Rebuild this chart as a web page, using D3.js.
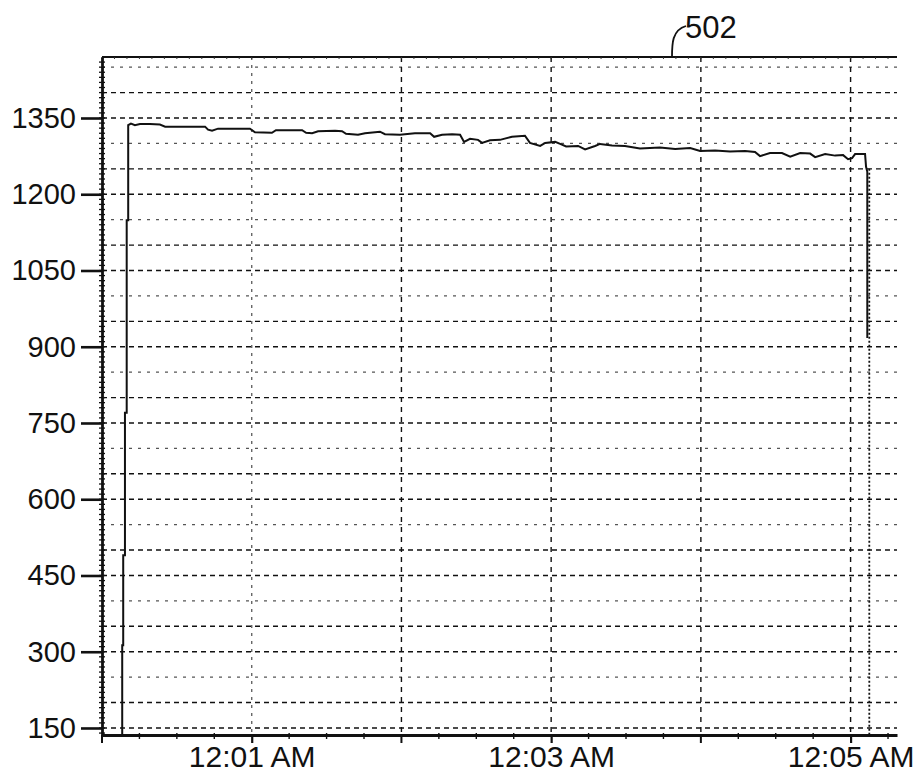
<!DOCTYPE html>
<html>
<head>
<meta charset="utf-8">
<script src="https://cdn.jsdelivr.net/npm/d3@7"></script>
<style>
  html, body { margin: 0; padding: 0; background: #fff; }
  svg { display: block; }
  text { font-family: "Liberation Sans", Arial, sans-serif; fill: #111; }
</style>
</head>
<body>
<svg id="chart" width="914" height="773"></svg>
<script>
// ---- data (seconds after 12:00:00 AM, value) ----
const timesSec = [8.1, 8.1, 8.5, 8.5, 9.2, 9.2, 9.9, 9.9, 10.5, 10.5,
  11.6, 13.2, 15.2, 19.2, 23.2, 25.3, 41.3, 42.5, 44.1, 46.5, 59.3, 61.3, 68.1, 69.7,
  80.2, 81.8, 84.2, 86.6, 93.4, 96.2, 97.8, 102.6, 105.4, 111.4, 113.4, 119.4, 125.4,
  131.5, 133.1, 136.3, 140.3, 143.5, 145.1, 147.5, 150.7, 152.3, 155.5, 159.5, 164.3,
  169.5, 171.5, 175.6, 177.6, 181.6, 183.6, 186.0, 190.8, 193.6, 197.6, 199.6, 204.4,
  209.6, 215.6, 223.6, 229.7, 235.7, 239.7, 245.7, 251.7, 257.7, 261.7, 263.7, 267.7,
  272.5, 275.8, 279.8, 283.8, 285.8, 289.8, 293.8, 297.0, 299.0, 300.6, 301.8, 305.8,
  306.2, 306.7, 306.7];
const values = [136, 313, 313, 490, 490, 770, 770, 1149, 1149, 1336,
  1339, 1336, 1338, 1338, 1337, 1333, 1333, 1327, 1325, 1329, 1329, 1322, 1321, 1326,
  1326, 1321, 1320, 1324, 1325, 1324, 1319, 1317, 1320, 1323, 1318, 1317, 1320,
  1320, 1313, 1317, 1318, 1317, 1303, 1309, 1307, 1301, 1306, 1307, 1313,
  1315, 1301, 1295, 1301, 1303, 1299, 1294, 1295, 1288, 1295, 1299, 1296,
  1295, 1290, 1292, 1289, 1291, 1285, 1286, 1284, 1285, 1283, 1275, 1281,
  1281, 1274, 1281, 1280, 1273, 1279, 1276, 1277, 1269, 1271, 1279, 1279,
  1254, 1244, 917];
const markerSec = 307.5;          // dotted cursor line at end of run
const markerTop = 1250;
const yTickValues = [150, 300, 450, 600, 750, 900, 1050, 1200, 1350];
const yGridValues = d3.range(150, 1451, 50);
const xTickLabels = ["12:01 AM", "12:03 AM", "12:05 AM"];
const xLabelMinutes = [1, 3, 5];
const xGridMinutes = [1, 2, 3, 4, 5];
const calloutLabel = "502";

// ---- layout ----
const svg = d3.select("#chart");
const base = new Date(2000, 0, 1, 0, 0, 0);
const toDate = s => new Date(base.getTime() + s * 1000);
const x = d3.scaleTime().domain([toDate(0), toDate(318.6)]).range([102, 897]);
const y = d3.scaleLinear().domain([136.2, 1470]).range([735, 57]);
const X0 = 102, X1 = 897, Y0 = 735, Y1 = 57;

// horizontal grid
svg.append("g").selectAll("line").data(yGridValues).join("line")
  .attr("x1", X0).attr("x2", X1)
  .attr("y1", d => y(d)).attr("y2", d => y(d))
  .attr("stroke", (d, i) => (i % 3 === 2) ? "#555" : "#111")
  .attr("stroke-width", 1.4)
  .attr("stroke-dasharray", (d, i) => (i % 3 === 2) ? "3,6" : "5,4");

// vertical grid
svg.append("g").selectAll("line").data(xGridMinutes).join("line")
  .attr("x1", d => x(toDate(d * 60))).attr("x2", d => x(toDate(d * 60)))
  .attr("y1", Y1).attr("y2", Y0)
  .attr("stroke", d => d === 1 ? "#666" : "#111")
  .attr("stroke-width", 1.4)
  .attr("stroke-dasharray", d => d === 1 ? "3,5" : "5,5");

// dotted cursor marker
svg.append("line")
  .attr("x1", x(toDate(markerSec))).attr("x2", x(toDate(markerSec)))
  .attr("y1", y(markerTop)).attr("y2", Y0)
  .attr("stroke", "#111").attr("stroke-width", 1.8)
  .attr("stroke-dasharray", "2,2");

// data line
const pts = timesSec.map((t, i) => [toDate(t), values[i]]);
svg.append("path")
  .datum(pts)
  .attr("fill", "none")
  .attr("stroke", "#111")
  .attr("stroke-width", 2)
  .attr("d", d3.line().x(d => x(d[0])).y(d => y(Math.max(d[1], 136.2))));

// top frame line with tiny ticks
svg.append("line").attr("x1", X0).attr("x2", X1).attr("y1", Y1).attr("y2", Y1)
  .attr("stroke", "#111").attr("stroke-width", 1.8);
svg.append("g").selectAll("line").data(d3.range(0, 318, 5)).join("line")
  .attr("x1", d => x(toDate(d))).attr("x2", d => x(toDate(d)))
  .attr("y1", Y1).attr("y2", Y1 + 2)
  .attr("stroke", "#333").attr("stroke-width", 1);

// left axis
const yAxis = d3.axisLeft(y).tickValues(yTickValues).tickSize(21).tickSizeOuter(0).tickPadding(5)
  .tickFormat(d3.format("d"));
const gy = svg.append("g").attr("transform", `translate(${X0},0)`).call(yAxis);
gy.select(".domain").attr("stroke", "#111").attr("stroke-width", 2.8);
gy.selectAll(".tick line").attr("stroke", "#111").attr("stroke-width", 2.6);
gy.selectAll(".tick text").attr("font-size", 29).attr("fill", "#111")
  .attr("font-family", "'Liberation Sans', Arial, sans-serif");
// minor ticks on left axis
svg.append("g").selectAll("line").data(d3.range(140, 1470, 10)).join("line")
  .attr("x1", X0 - 3).attr("x2", X0 + 3)
  .attr("y1", d => y(d)).attr("y2", d => y(d))
  .attr("stroke", "#111").attr("stroke-width", 1.3);

// bottom axis
const xAxis = d3.axisBottom(x)
  .tickValues(xLabelMinutes.map(m => toDate(m * 60)))
  .tickSize(8).tickSizeOuter(0).tickPadding(3)
  .tickFormat((d, i) => xTickLabels[i]);
const gx = svg.append("g").attr("transform", `translate(0,${Y0})`).call(xAxis);
gx.select(".domain").attr("stroke", "#111").attr("stroke-width", 2.8);
gx.selectAll(".tick line").attr("stroke", "#111").attr("stroke-width", 2.2);
gx.selectAll(".tick text").attr("font-size", 30).attr("fill", "#111")
  .attr("font-family", "'Liberation Sans', Arial, sans-serif");
// unlabeled minute ticks and minor 15s ticks
svg.append("g").selectAll("line").data([0, 2, 4]).join("line")
  .attr("x1", d => x(toDate(d * 60))).attr("x2", d => x(toDate(d * 60)))
  .attr("y1", Y0).attr("y2", Y0 + 8)
  .attr("stroke", "#111").attr("stroke-width", 2);
svg.append("g").selectAll("line").data(d3.range(15, 318, 15).filter(s => s % 60 !== 0)).join("line")
  .attr("x1", d => x(toDate(d))).attr("x2", d => x(toDate(d)))
  .attr("y1", Y0 - 2).attr("y2", Y0 + 4)
  .attr("stroke", "#111").attr("stroke-width", 1.4);

// callout 502
svg.append("path")
  .attr("d", "M672,57 C672,44 672,30 686,26")
  .attr("fill", "none").attr("stroke", "#111").attr("stroke-width", 1.8);
svg.append("text").attr("x", 685).attr("y", 38)
  .attr("font-size", 31).text(calloutLabel);
</script>
</body>
</html>
